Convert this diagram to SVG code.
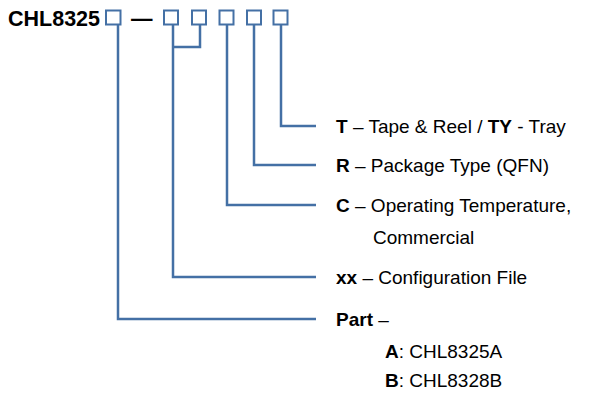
<svg xmlns="http://www.w3.org/2000/svg" width="611" height="393" viewBox="0 0 611 393">
<style>
.t{font-family:"Liberation Sans",Arial,sans-serif;font-size:19px;fill:#000}
.b{font-weight:bold}
.title{font-family:"Liberation Sans",Arial,sans-serif;font-size:21.5px;font-weight:bold;fill:#000}
.box{fill:#fff;stroke:#4470a5;stroke-width:2}
.ln{fill:none;stroke:#4470a5;stroke-width:2.5}
</style>
<rect width="611" height="393" fill="#fff"/>
<g id="header">
<text class="title" x="8" y="25.5">CHL8325</text>
<text class="title" x="131" y="25.5">—</text>
</g>
<g id="boxes">
<rect class="box" x="106" y="10.5" width="14.5" height="14"/>
<rect class="box" x="164" y="10.5" width="14" height="14"/>
<rect class="box" x="192" y="10.5" width="14" height="14"/>
<rect class="box" x="219.5" y="10.5" width="14" height="14"/>
<rect class="box" x="247" y="10.5" width="14" height="14"/>
<rect class="box" x="273.5" y="10.5" width="14" height="14"/>
</g>
<g id="connectors">
<polyline class="ln" points="118,25 118,319 316,319"/>
<polyline class="ln" points="173,25 173,277 316,277"/>
<polyline class="ln" points="200,25 200,47 173,47"/>
<polyline class="ln" points="227,25 227,205 316,205"/>
<polyline class="ln" points="254,25 254,165 316,165"/>
<polyline class="ln" points="281,25 281,126 316,126"/>
</g>
<g id="label-T"><text class="t" x="336" y="132.5"><tspan class="b">T</tspan> – Tape &amp; Reel / <tspan class="b">TY</tspan> - Tray</text></g>
<g id="label-R"><text class="t" x="336" y="172"><tspan class="b">R</tspan> – Package Type (QFN)</text></g>
<g id="label-C"><text class="t" x="336" y="212"><tspan class="b">C</tspan> – Operating Temperature,</text>
<text class="t" x="373" y="244">Commercial</text></g>
<g id="label-xx"><text class="t" x="336" y="284"><tspan class="b">xx</tspan> – Configuration File</text></g>
<g id="label-Part"><text class="t" x="336" y="326"><tspan class="b">Part</tspan> –</text>
<text class="t" x="385" y="357.5"><tspan class="b">A</tspan>: CHL8325A</text>
<text class="t" x="385" y="387"><tspan class="b">B</tspan>: CHL8328B</text></g>
</svg>
